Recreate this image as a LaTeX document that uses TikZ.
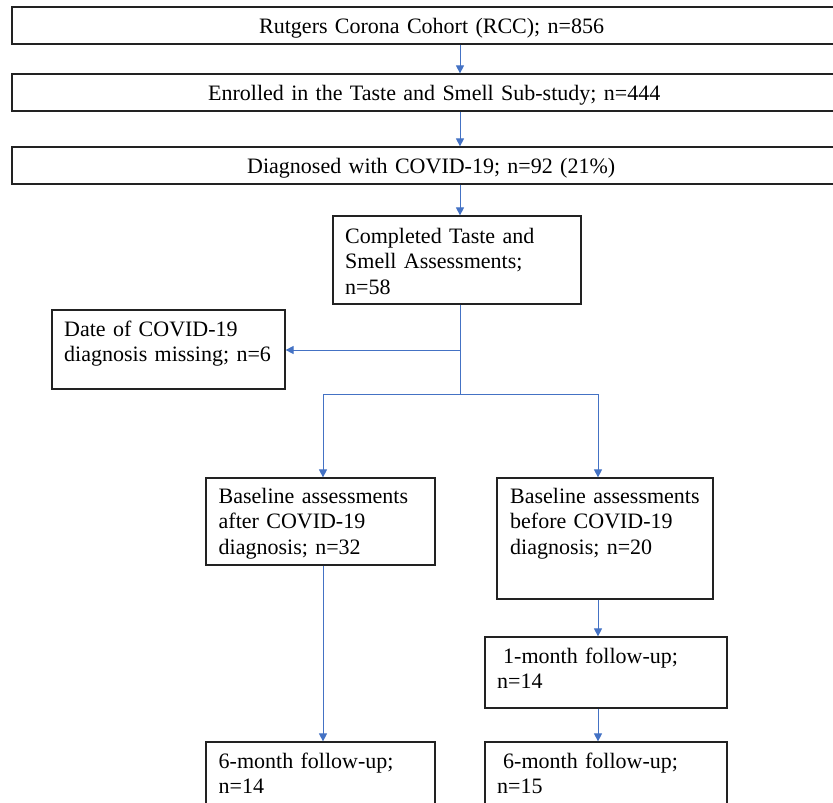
\documentclass[tikz,border=0pt]{standalone}
\usepackage{fontspec}
\setmainfont{Liberation Serif}
\usetikzlibrary{arrows.meta}
\definecolor{arrblue}{HTML}{4472C4}
\definecolor{boxline}{HTML}{222222}
\begin{document}
\begin{tikzpicture}[x=1pt,y=-1pt,
  box/.style={draw=boxline,line width=1.2pt,inner sep=0pt,fill=none},
  txt/.style={anchor=base west,inner sep=0pt,align=left,text width=330pt,
    font=\fontsize{22}{25.5}\selectfont},
  conn/.style={draw=arrblue,line width=0.9pt},
  arr/.style={conn,-{Triangle[length=8pt,width=8pt]}}]
\useasboundingbox (0,0) rectangle (833,803);
\clip (0,0) rectangle (833,803);
% boxes
\node[box,minimum width=838pt,minimum height=37pt] (b1) at (431,25.5) {};
\node[box,minimum width=838pt,minimum height=37pt] (b2) at (431,92.5) {};
\node[box,minimum width=838pt,minimum height=37pt] (b3) at (431,165.5) {};
\node[box,minimum width=248pt,minimum height=88pt] (b4) at (457,260) {};
\node[box,minimum width=233pt,minimum height=79pt] (b5) at (168.5,349.5) {};
\node[box,minimum width=229pt,minimum height=87pt] (b6) at (320.5,521.5) {};
\node[box,minimum width=216pt,minimum height=121pt] (b7) at (605,538.5) {};
\node[box,minimum width=242pt,minimum height=71pt] (b8) at (606,672.5) {};
\node[box,minimum width=229pt,minimum height=78pt] (b9) at (320.5,781) {};
\node[box,minimum width=242pt,minimum height=78pt] (b10) at (606,781) {};
% texts
\node[txt,text width=600pt] (t1) at (259,33) {Rutgers Corona Cohort (RCC); n=856};
\node[txt,text width=600pt] (t2) at (208,100) {Enrolled in the Taste and Smell Sub-study; n=444};
\node[txt,text width=600pt] (t3) at (247,173) {Diagnosed with COVID-19; n=92 (21\%)};
\node[txt] (t4) at (345,243) {Completed Taste and\\Smell Assessments;\\n=58};
\node[txt] (t5) at (64,336) {Date of COVID-19\\diagnosis missing; n=6};
\node[txt] (t6) at (218.5,503) {Baseline assessments\\after COVID-19\\diagnosis; n=32};
\node[txt] (t7) at (510,503) {Baseline assessments\\before COVID-19\\diagnosis; n=20};
\node[txt] (t8) at (497,663) {\hspace*{6pt}1-month follow-up;\\n=14};
\node[txt] (t9) at (218.5,768) {6-month follow-up;\\n=14};
\node[txt] (t10) at (497,768) {\hspace*{6pt}6-month follow-up;\\n=15};
% connector points
\coordinate (mx) at (460,0);
\coordinate (j0) at (460,350);
\coordinate (j1) at (460,394);
\coordinate (jl) at (323,394);
\coordinate (jr) at (598,394);
% connectors
\draw[arr] (b1.south -| mx) -- (b2.north -| mx);
\draw[arr] (b2.south -| mx) -- (b3.north -| mx);
\draw[arr] (b3.south -| mx) -- (b4.north -| mx);
\draw[conn] (b4.south -| mx) -- (j1);
\draw[arr] (j0) -- (b5.east |- j0);
\draw[conn] (jl) -- (jr);
\draw[arr] (jl) -- (jl |- b6.north);
\draw[arr] (jr) -- (jr |- b7.north);
\draw[arr] (jl |- b6.south) -- (jl |- b9.north);
\draw[arr] (jr |- b7.south) -- (jr |- b8.north);
\draw[arr] (jr |- b8.south) -- (jr |- b10.north);
\end{tikzpicture}
\end{document}
